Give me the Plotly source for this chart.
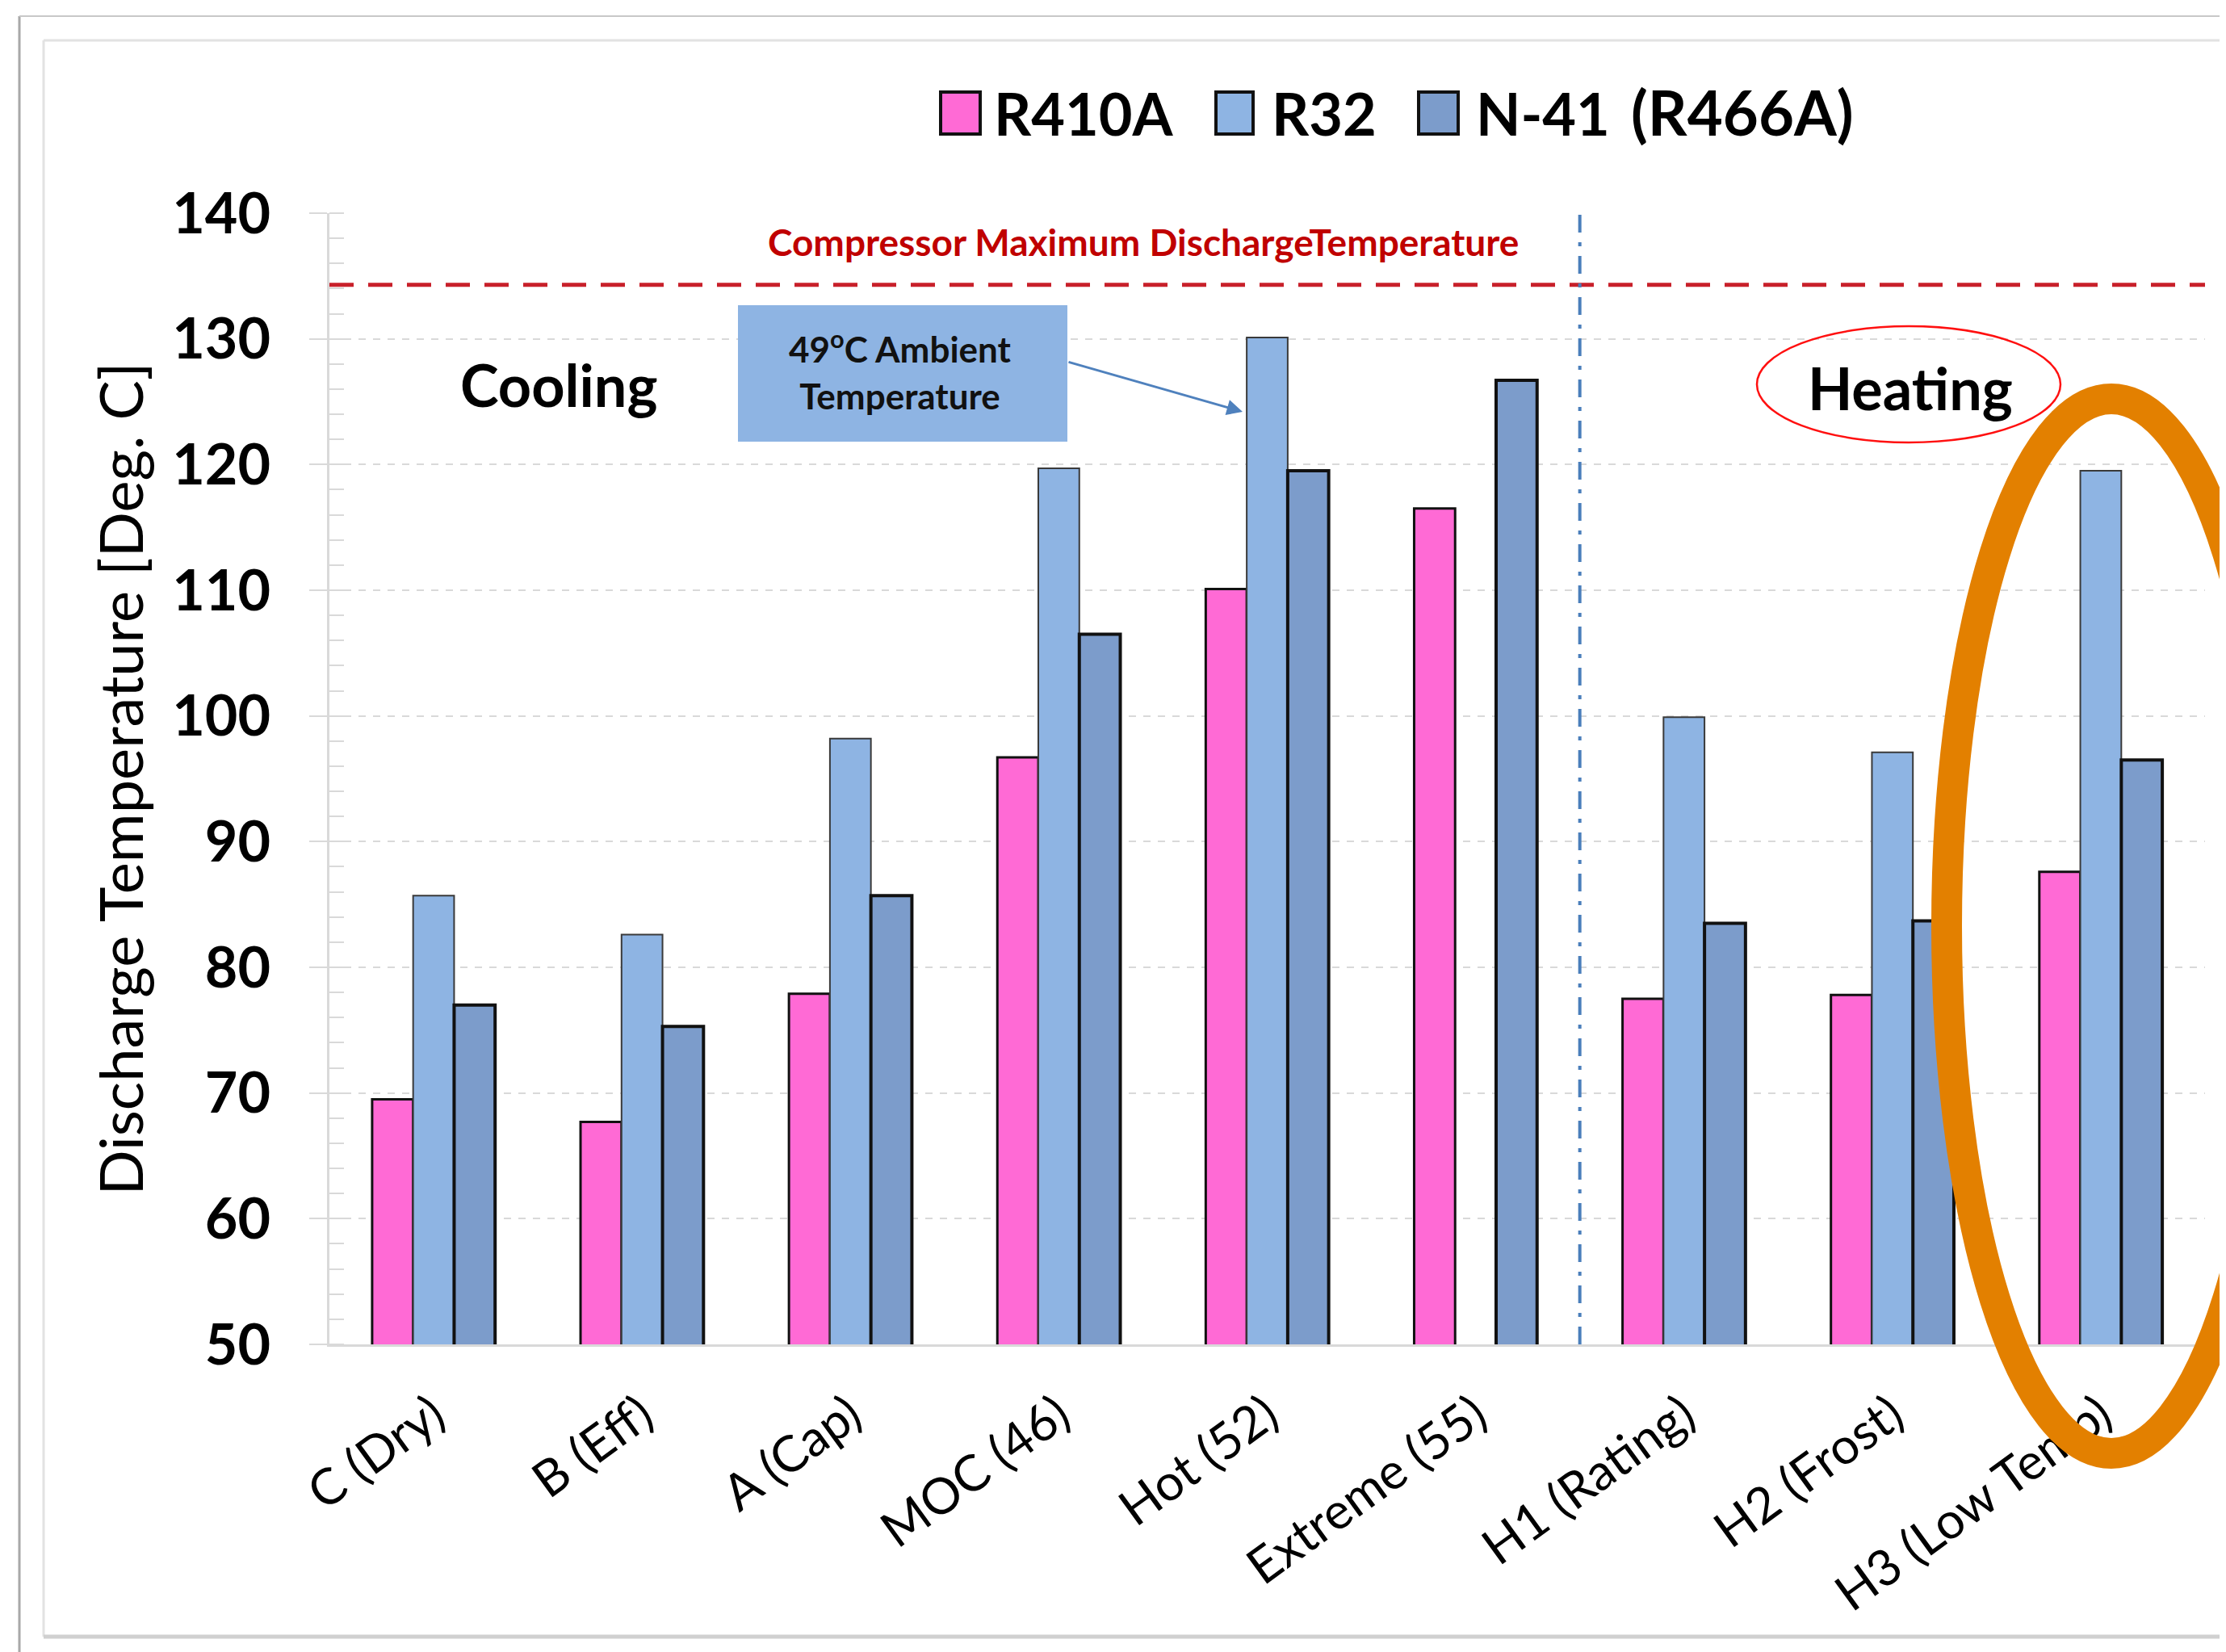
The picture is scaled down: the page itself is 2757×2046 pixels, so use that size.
import plotly.graph_objects as go

# ---------------- data ----------------
categories = ["C (Dry)", "B (Eff)", "A (Cap)", "MOC (46)", "Hot (52)",
              "Extreme (55)", "H1 (Rating)", "H2 (Frost)", "H3 (Low Temp)"]
r410a = [69.5, 67.7, 77.9, 96.7, 110.1, 116.5, 77.5, 77.8, 87.6]
r32 = [85.7, 82.6, 98.2, 119.7, 130.1, None, 99.9, 97.1, 119.5]
n41 = [77.0, 75.3, 85.7, 106.5, 119.5, 126.7, 83.5, 83.7, 96.5]
series_names = ["R410A", "R32", "N-41"]
max_discharge = 134.3
y_ticks = [50, 60, 70, 80, 90, 100, 110, 120, 130, 140]

# ---------------- geometry helpers (page pixel -> paper) ----------------
PAGE_W, PAGE_H = 2757, 2046
OFF = 8  # default body margin of the html page
W, H = PAGE_W - OFF, PAGE_H - OFF
L, R, T, B = 408, 2731, 264, 1665  # plot area in page pixels
def px(x):
    return (x - L) / (R - L)
def py(y):
    return (B - y) / (B - T)

FONT = "Lato"
pink = "#FF6AD5"
lblue = "#8EB4E3"
dblue = "#7C9CCB"

fig = go.Figure()
fig.add_trace(go.Bar(name=series_names[0], x=categories, y=r410a,
                     marker=dict(color=pink, line=dict(color="#111111", width=3)),
                     showlegend=False))
fig.add_trace(go.Bar(name=series_names[1], x=categories, y=r32,
                     marker=dict(color=lblue, line=dict(color="#3a3a3a", width=2)),
                     showlegend=False))
fig.add_trace(go.Bar(name=series_names[2], x=categories, y=n41,
                     marker=dict(color=dblue, line=dict(color="#111111", width=4)),
                     showlegend=False))

shapes = []
# compressor max discharge line
shapes.append(dict(type="line", xref="x", yref="y", x0=-0.5, x1=8.5,
                   y0=max_discharge, y1=max_discharge,
                   line=dict(color="#C8202A", width=5, dash="30px,18px"), layer="above"))
# cooling / heating divider
shapes.append(dict(type="line", xref="x", yref="y", x0=5.5, x1=5.5, y0=50, y1=140,
                   line=dict(color="#4A7EBB", width=4, dash="22px,12px,5px,12px"), layer="above"))
# annotation box
shapes.append(dict(type="rect", xref="paper", yref="paper",
                   x0=px(914), x1=px(1322), y0=py(547), y1=py(378),
                   fillcolor=lblue, line=dict(width=0), layer="above"))
# heating ellipse
shapes.append(dict(type="circle", xref="paper", yref="paper",
                   x0=px(2176), x1=px(2552), y0=py(548), y1=py(404),
                   line=dict(color="#FF1010", width=2.5), layer="above"))
# orange highlight ellipse
shapes.append(dict(type="circle", xref="paper", yref="paper",
                   x0=px(2411), x1=px(2819), y0=py(1800), y1=py(494),
                   line=dict(color="#E38000", width=38), layer="above"))
# frame lines
shapes.append(dict(type="line", xref="paper", yref="paper",
                   x0=px(24), x1=px(24), y0=py(20), y1=py(2060),
                   line=dict(color="#A8A8A8", width=3)))
shapes.append(dict(type="line", xref="paper", yref="paper",
                   x0=px(24), x1=px(2780), y0=py(20), y1=py(20),
                   line=dict(color="#C8C8C8", width=2)))
shapes.append(dict(type="line", xref="paper", yref="paper",
                   x0=px(54), x1=px(54), y0=py(50), y1=py(2027),
                   line=dict(color="#E2E2E2", width=3)))
shapes.append(dict(type="line", xref="paper", yref="paper",
                   x0=px(54), x1=px(2780), y0=py(50), y1=py(50),
                   line=dict(color="#E2E2E2", width=3)))
shapes.append(dict(type="line", xref="paper", yref="paper",
                   x0=px(54), x1=px(2780), y0=py(2027), y1=py(2027),
                   line=dict(color="#D0D0D0", width=5)))

# manual legend
legend_items = [(series_names[0], pink, 1165, 1214, 1233),
                (series_names[1], lblue, 1506, 1552, 1577),
                (series_names[2], dblue, 1757, 1806, 1830)]
annotations = []
for name, col, x0, x1, tx in legend_items:
    shapes.append(dict(type="rect", xref="paper", yref="paper",
                       x0=px(x0), x1=px(x1), y0=py(166), y1=py(114),
                       fillcolor=col, line=dict(color="#111111", width=4)))
    annotations.append(dict(text=name, xref="paper", yref="paper", x=px(tx - 4), y=py(140),
                            xanchor="left", yanchor="middle", showarrow=False,
                            font=dict(family=FONT, size=72, color="black", weight="bold")))
annotations.append(dict(text="(R466A)", xref="paper", yref="paper", x=px(2018), y=py(138),
                        xanchor="left", yanchor="middle", showarrow=False,
                        font=dict(family=FONT, size=76, color="black", weight="bold")))

annotations += [
    dict(text="Compressor Maximum DischargeTemperature", xref="paper", yref="paper",
         x=px(1416), y=py(300), xanchor="center", yanchor="middle", showarrow=False,
         font=dict(family=FONT, size=46, color="#C00000", weight="bold")),
    dict(text="Cooling", xref="paper", yref="paper", x=px(692), y=py(476),
         xanchor="center", yanchor="middle", showarrow=False,
         font=dict(family=FONT, size=72, color="black", weight="bold")),
    dict(text="Heating", xref="paper", yref="paper", x=px(2366), y=py(480),
         xanchor="center", yanchor="middle", showarrow=False,
         font=dict(family=FONT, size=72, color="black", weight="bold")),
    dict(text="49<sup>o</sup>C Ambient<br>Temperature", xref="paper", yref="paper",
         x=px(1115), y=py(458), xanchor="center", yanchor="middle", showarrow=False,
         font=dict(family=FONT, size=44, color="#111111", weight="bold")),
    dict(text="", xref="paper", yref="paper", x=px(1539), y=py(510),
         ax=-217, ay=-62, showarrow=True, arrowhead=2, arrowsize=1.3,
         arrowwidth=3, arrowcolor="#4F81BD", standoff=0, startstandoff=0),
]

fig.update_layout(
    width=W, height=H,
    margin=dict(l=L - OFF, r=PAGE_W - R, t=T - OFF, b=PAGE_H - B, autoexpand=False),
    paper_bgcolor="white", plot_bgcolor="white",
    barmode="group", bargap=0.41, bargroupgap=0,
    showlegend=False,
    shapes=shapes, annotations=annotations,
    xaxis=dict(type="category", range=[-0.5, 8.5], showline=True,
               linecolor="#D9D9D9", linewidth=3, ticks="", showgrid=False,
               tickangle=-36, tickfont=dict(family=FONT, size=62, color="black"),
               ticklabelstandoff=24, automargin=False),
    yaxis=dict(range=[50, 140], tickvals=y_ticks, showgrid=True, gridcolor="#D9D9D9",
               griddash="dash", gridwidth=2, zeroline=False, showline=True,
               linecolor="#D9D9D9", linewidth=3, ticks="outside", ticklen=22,
               tickcolor="#D9D9D9", tickwidth=2,
               minor=dict(ticks="inside", ticklen=18, dtick=2, tickcolor="#D9D9D9",
                          tickwidth=2, showgrid=False),
               tickfont=dict(family=FONT, size=70, color="black", weight="bold"),
               ticklabelstandoff=34,
               title=dict(text="Discharge Temperature [Deg. C]", standoff=12,
                          font=dict(family=FONT, size=74, color="black")),
               automargin=False),
)

fig.write_html("out.html")
